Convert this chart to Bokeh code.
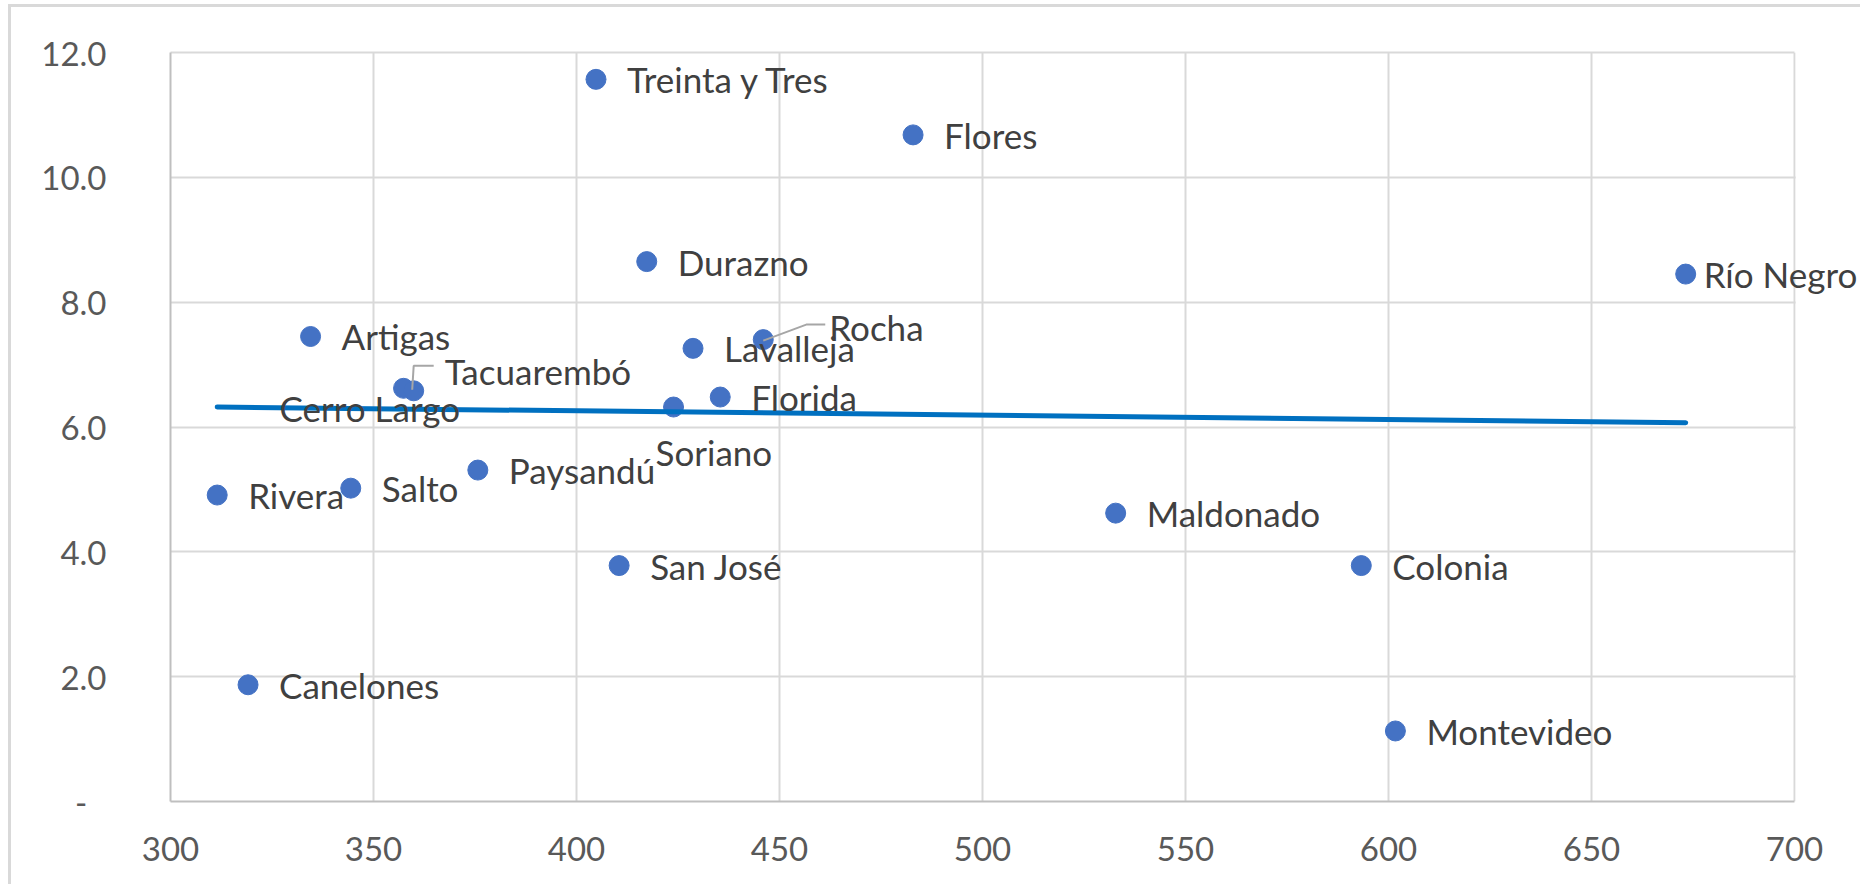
from bokeh.plotting import figure
from bokeh.models import (FixedTicker, ColumnDataSource, Range1d, Label,
                          BoxAnnotation, LinearAxis)
from bokeh.embed import file_html
from bokeh.resources import INLINE

# ---------------- data ----------------
departments = ["Treinta y Tres", "Flores", "Durazno", "Río Negro", "Artigas",
               "Rocha", "Lavalleja", "Cerro Largo", "Tacuarembó", "Florida",
               "Soriano", "Paysandú", "Salto", "Rivera", "Maldonado",
               "San José", "Colonia", "Canelones", "Montevideo"]
x_values = [404.8, 482.9, 417.3, 673.2, 334.5,
            446.0, 428.7, 357.4, 359.9, 435.4,
            423.9, 375.7, 344.4, 311.5, 532.8,
            410.5, 593.3, 319.1, 601.7]
y_values = [11.57, 10.68, 8.65, 8.45, 7.45,
            7.40, 7.26, 6.62, 6.58, 6.48,
            6.32, 5.31, 5.02, 4.91, 4.62,
            3.78, 3.78, 1.87, 1.13]
trend_x = [311.5, 673.2]
trend_y = [6.32, 6.07]
x_ticks = [300, 350, 400, 450, 500, 550, 600, 650, 700]
y_ticks = [0, 2, 4, 6, 8, 10, 12]
y_tick_labels = ["-\u2007", "2.0", "4.0", "6.0", "8.0", "10.0", "12.0"]

# ---------------- layout / style ----------------
FONT = "Lato"
BORDER = 3
MARGIN_L, MARGIN_T = 8, 4
W, H = 1852, 880
LEFT, TOP, BOTTOM = 159, 45, 86
PLOT_W = 1624                           # width of the 300..700 plot area
XMIN, XMAX, YMIN, YMAX = 300, 700, 0, 12
frame_h = H - TOP - BOTTOM
px_x = PLOT_W / (XMAX - XMIN)
px_y = frame_h / (YMAX - YMIN)
# the frame runs on to the right edge so that the "Río Negro" label is not clipped
x_end = XMAX + (W - LEFT - PLOT_W) / px_x

default_offset = (31, 0)
label_offsets = {            # screen px: (dx right, dy down)
    "Rocha": (66, -13),
    "Tacuarembó": (31, -20),
    "Cerro Largo": (-124, 20),
    "Soriano": (-18, 45),
    "Río Negro": (18, 0),
}
leaders = {                  # screen px polylines relative to point
    "Rocha": [(0, 1), (43, -15), (62, -15)],
    "Tacuarembó": [(-1.5, -1), (0, -25), (20, -25)],
}

p = figure(width=W, height=H, output_backend="svg", toolbar_location=None,
           x_range=Range1d(XMIN, x_end), y_range=Range1d(YMIN, YMAX),
           min_border_left=LEFT, min_border_right=0,
           min_border_top=TOP, min_border_bottom=BOTTOM)
p.styles = {"border-top": f"{BORDER}px solid #D9D9D9",
            "border-left": f"{BORDER}px solid #D9D9D9",
            "margin-left": f"{MARGIN_L}px", "margin-top": f"{MARGIN_T}px"}
p.background_fill_color = "white"
p.border_fill_color = "white"
p.outline_line_color = None

for ax in (p.xaxis, p.yaxis):
    ax.axis_line_color = "#BFBFBF"
    ax.axis_line_width = 2
    ax.major_tick_line_color = None
    ax.minor_tick_line_color = None
    ax.major_label_text_font = FONT
    ax.major_label_text_font_size = "33px"
    ax.major_label_text_color = "#595959"

p.xaxis.bounds = (XMIN, XMAX)
p.xaxis.ticker = FixedTicker(ticks=x_ticks)
p.yaxis.ticker = FixedTicker(ticks=y_ticks)
p.yaxis.major_label_overrides = {float(t): l for t, l in zip(y_ticks, y_tick_labels)}
p.xaxis.major_label_standoff = 29
p.yaxis.major_label_standoff = 58

# top edge of the plot area
top_axis = LinearAxis(bounds=(XMIN, XMAX), ticker=FixedTicker(ticks=[]),
                      axis_line_color="#D9D9D9", axis_line_width=2,
                      major_tick_line_color=None, minor_tick_line_color=None,
                      major_label_text_font_size="0px")
p.add_layout(top_axis, "above")

p.xgrid.ticker = FixedTicker(ticks=x_ticks)
p.ygrid.ticker = FixedTicker(ticks=y_ticks)
p.xgrid.grid_line_color = "#D9D9D9"
p.ygrid.grid_line_color = "#D9D9D9"
p.xgrid.grid_line_width = 2
p.ygrid.grid_line_width = 2

# white mask right of the plot area (hides the grid lines past 700)
p.add_layout(BoxAnnotation(left=XMAX + 1.2 / px_x, fill_color="white",
                           fill_alpha=1.0, line_color=None, level="underlay"))

src = ColumnDataSource(dict(x=x_values, y=y_values, name=departments))

p.scatter("x", "y", source=src, size=20, marker="circle",
          fill_color="#4472C4", line_color="#4472C4")

p.line(trend_x, trend_y, line_color="#0070C0", line_width=5, line_cap="round")

# leader lines
for name, pts in leaders.items():
    i = departments.index(name)
    xs = [x_values[i] + dx / px_x for dx, dy in pts]
    ys = [y_values[i] - dy / px_y for dx, dy in pts]
    p.line(xs, ys, line_color="#A6A6A6", line_width=2)

# data labels
for name, xv, yv in zip(departments, x_values, y_values):
    dx, dy = label_offsets.get(name, default_offset)
    p.add_layout(Label(x=xv, y=yv, text=name, x_offset=dx, y_offset=-dy,
                       text_font=FONT, text_font_size="35px",
                       text_color="#404040", text_align="left",
                       text_baseline="middle", level="overlay"))

open("out.html", "w").write(file_html(p, INLINE))
